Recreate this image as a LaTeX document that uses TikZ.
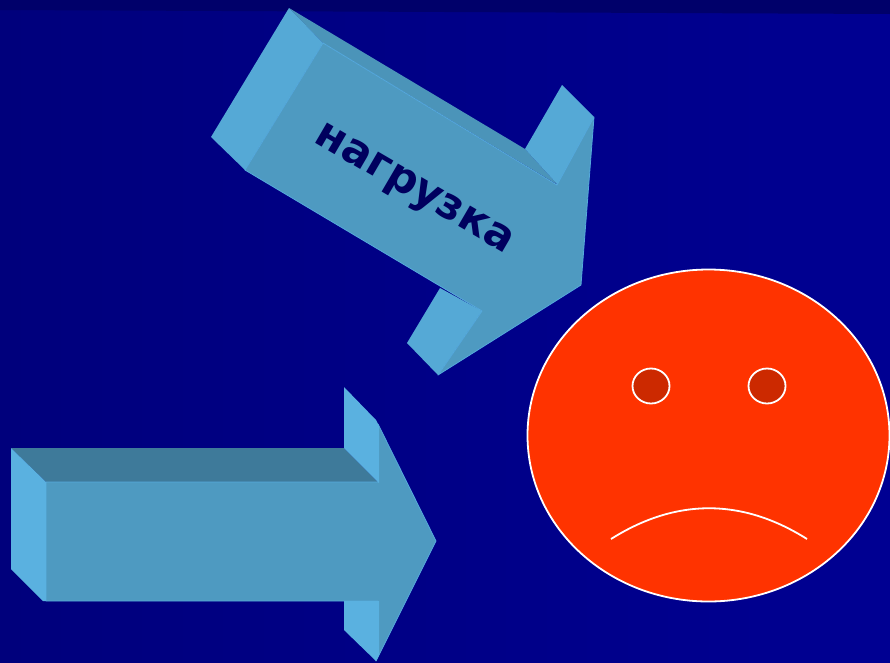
\documentclass[tikz,border=0pt]{standalone}
\usepackage{fontspec}
\setmainfont{DejaVu Sans}
\usepackage{xcolor}
\definecolor{bgleft}{HTML}{00007C}
\definecolor{bgright}{HTML}{000092}
\definecolor{bandtop}{HTML}{00006A}
\definecolor{front}{HTML}{4E9AC1}
\definecolor{side}{HTML}{5AB1E0}
\definecolor{sideup}{HTML}{55A9D6}
\definecolor{roof}{HTML}{3E7A9A}
\definecolor{roofup}{HTML}{4B94B9}
\definecolor{rim}{HTML}{55A9DC}
\definecolor{face}{HTML}{FF3300}
\definecolor{eye}{HTML}{CC2900}
\definecolor{label}{HTML}{00005E}
\tikzset{
  facet/.style={line width=0.8pt, line join=round},
  smile/.style={draw=white, line width=1.8pt}
}

\begin{document}
\begin{tikzpicture}[x=1pt, y=-1pt]
  \useasboundingbox (0,0) rectangle (890,662);

  % --- Background ---
  \shade[left color=bgleft, right color=bgright] (0,0) rectangle (890,662);
  \fill[bandtop] (0,0) -- (890,0) -- (890,14) -- (0,10) -- cycle;

  % --- Upper arrow ---
  \fill[roofup] (289,8) -- (525,149) -- (558,185) -- (323,43) -- cycle;
  \foreach \pts in {{(289,8) -- (323,43) -- (245,170) -- (211,137)},
                    {(562,85) -- (594,117) -- (558,185) -- (525,149)},
                    {(440,288) -- (482,311) -- (438,375) -- (407,343)}} {
    \fill[sideup] \pts -- cycle;
  }
  \draw[facet, draw=rim, fill=front] (323,43) -- (557,185) -- (594,117) -- (581,285)
    -- (438,375) -- (482,311) -- (245,170) -- cycle;
  \node[font=\bfseries\fontsize{43}{50}\selectfont, text=label, rotate=-30.3] (load) at (413,191) {нагрузка};

  % --- Lower arrow ---
  \fill[roof] (11,448) -- (344,448) -- (378,482) -- (46,482) -- cycle;
  \draw[facet, draw=rim, fill=front] (46,482) -- (378,482) -- (378,424) -- (436,541)
    -- (376,661) -- (378,601) -- (46,601) -- cycle;
  \foreach \pts in {{(11,448) -- (46,482) -- (46,601) -- (43,601) -- (11,569)},
                    {(344,387) -- (376,420) -- (379,426) -- (379,483) -- (344,448)},
                    {(344,601) -- (379,601) -- (379,655) -- (376,661) -- (344,630)}} {
    \fill[side] \pts -- cycle;
  }

  % --- Sad face ---
  \draw[smile, fill=face] (708.5,435.5) ellipse [x radius=181, y radius=166];
  \foreach \x in {651,767} {
    \draw[smile, fill=eye] (\x,386) ellipse [x radius=18.5, y radius=17.5];
  }
  \draw[smile] (611,539) .. controls (676,498) and (742,498) .. (807,539);
\end{tikzpicture}
\end{document}
